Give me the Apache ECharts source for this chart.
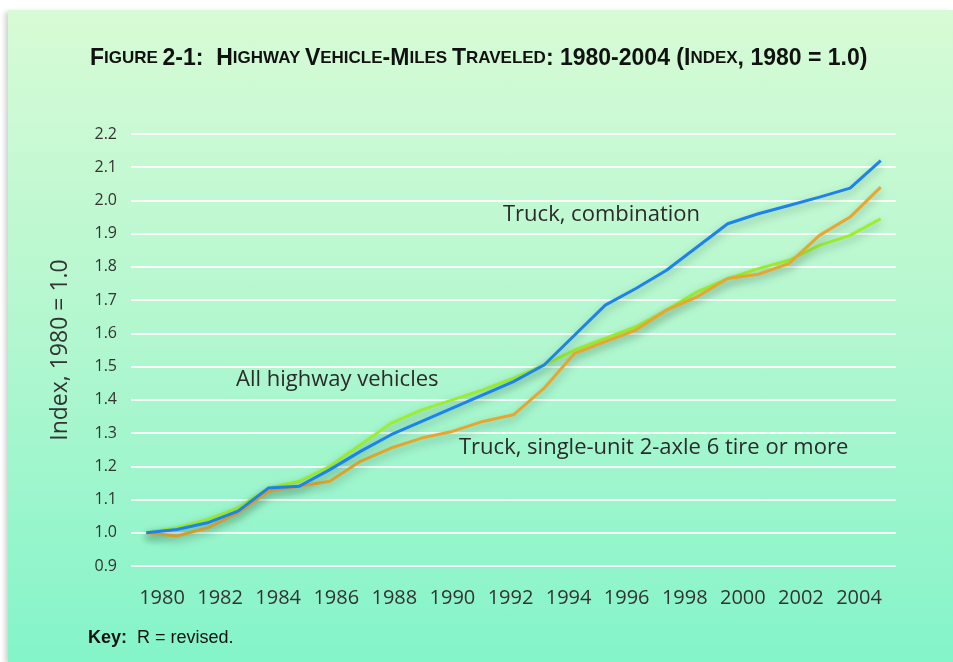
<html>
  <head>
    <meta http-equiv="Content-Type" content="text/html; charset=utf-8" />
    <script src="https://cdn.jsdelivr.net/npm/echarts@6/dist/echarts.min.js"></script>
    <style>
      body { margin: 0; background: #fff; }
      #panel {
        position: absolute; left: 8px; top: 10px; width: 945px; height: 652px;
        background: linear-gradient(#d7fbd5, #b2f7cf 50%, #84f4c9);
        box-shadow: -3px 2px 5px rgba(0,0,0,0.18);
      }
      #main { position: absolute; left: 0; top: 0; width: 953px; height: 662px; }
    </style>
  </head>
  <body>
    <div id="panel"></div>
    <div id="main"></div>
    <script type="text/javascript">
    // years on the x axis
    var years = ['1980','1981','1982','1983','1984','1985','1986','1987','1988','1989',
                 '1990','1991','1992','1993','1994','1995','1996','1997','1998','1999',
                 '2000','2001','2002','2003','2004'];
    // index values, 1980 = 1.0
    var truckCombination = [1.00, 1.01, 1.03, 1.065, 1.135, 1.14, 1.19, 1.245, 1.295, 1.335,
                            1.375, 1.415, 1.455, 1.505, 1.595, 1.685, 1.735, 1.79, 1.86, 1.93,
                            1.96, 1.985, 2.01, 2.037, 2.12];
    var allVehicles = [1.00, 1.015, 1.04, 1.075, 1.135, 1.155, 1.20, 1.265, 1.33, 1.37,
                       1.40, 1.43, 1.465, 1.505, 1.55, 1.585, 1.62, 1.67, 1.725, 1.765,
                       1.795, 1.82, 1.865, 1.895, 1.945];
    var singleUnit = [1.00, 0.99, 1.015, 1.06, 1.125, 1.14, 1.155, 1.215, 1.255, 1.285,
                      1.305, 1.335, 1.355, 1.435, 1.54, 1.575, 1.61, 1.67, 1.71, 1.765,
                      1.778, 1.81, 1.895, 1.95, 2.04];

    var font = "'Open Sans', sans-serif";
    var titleFont = "'Liberation Sans', Arial, sans-serif";
    var shadow = { shadowColor: 'rgba(0,60,40,0.35)', shadowBlur: 8, shadowOffsetY: 4 };

    var myChart = echarts.init(document.getElementById('main'));

    function line(name, data, color, z) {
      return {
        name: name, type: 'line', data: data, xAxisIndex: 0, yAxisIndex: 0,
        symbol: 'none', z: z,
        lineStyle: Object.assign({ color: color, width: 3 }, shadow)
      };
    }

    var option = {
      animation: false,
      textStyle: { fontFamily: font },
      title: [
        {
          left: 90, top: 47, padding: 0,
          text: '{a|F}{b|IGURE} {a|2-1:  H}{b|IGHWAY} {a|V}{b|EHICLE}{a|-M}{b|ILES} {a|T}{b|RAVELED}{a|: 1980-2004 (I}{b|NDEX}{a|, 1980 = 1.0)}',
          textStyle: {
            rich: {
              a: { fontFamily: titleFont, fontWeight: 'bold', fontSize: 23, color: '#111' },
              b: { fontFamily: titleFont, fontWeight: 'bold', fontSize: 17, color: '#111' }
            }
          }
        },
        {
          left: 88, top: 629, padding: 0,
          text: '{k|Key:}  R = revised.',
          textStyle: {
            fontFamily: titleFont, fontWeight: 'normal', fontSize: 18, color: '#111',
            rich: { k: { fontFamily: titleFont, fontWeight: 'bold', fontSize: 18, color: '#111' } }
          }
        }
      ],
      grid: [
        { left: 131, right: 57, top: 134, bottom: 96 },
        { left: 162, right: 94, top: 134, bottom: 96 }
      ],
      xAxis: [
        {
          gridIndex: 0, type: 'category', data: years, boundaryGap: true,
          axisLine: { show: false }, axisTick: { show: false }, axisLabel: { show: false }
        },
        {
          gridIndex: 1, type: 'category', data: years, boundaryGap: false,
          axisLine: { show: false }, axisTick: { show: false },
          axisLabel: { interval: 1, margin: 22, fontSize: 20, color: '#333', fontFamily: font }
        }
      ],
      yAxis: [
        {
          gridIndex: 0, type: 'value', min: 0.9, max: 2.2, interval: 0.1,
          name: 'Index, 1980 = 1.0', nameLocation: 'middle', nameGap: 59,
          nameTextStyle: { fontSize: 23, color: '#333', fontFamily: font },
          axisLine: { show: false }, axisTick: { show: false },
          axisLabel: { margin: 14, fontSize: 16, color: '#333', fontFamily: font,
                       formatter: function (v) { return v.toFixed(1); } },
          splitLine: { lineStyle: { color: 'rgba(255,255,255,0.9)', width: 2 } }
        },
        { gridIndex: 1, type: 'value', min: 0.9, max: 2.2, show: false }
      ],
      graphic: [
        { type: 'text', left: 503, top: 204, style: { text: 'Truck, combination', fontSize: 22, fontFamily: font, fill: '#2b2b2b' } },
        { type: 'text', left: 236, top: 369, style: { text: 'All highway vehicles', fontSize: 22, fontFamily: font, fill: '#2b2b2b' } },
        { type: 'text', left: 459, top: 437, style: { text: 'Truck, single-unit 2-axle 6 tire or more', fontSize: 22, fontFamily: font, fill: '#2b2b2b' } }
      ],
      series: [
        line('All highway vehicles', allVehicles, '#9cef2c', 2),
        line('Truck, single-unit 2-axle 6 tire or more', singleUnit, '#e9a62e', 3),
        line('Truck, combination', truckCombination, '#1b82ee', 4)
      ]
    };

    myChart.setOption(option);
    </script>
  </body>
</html>
